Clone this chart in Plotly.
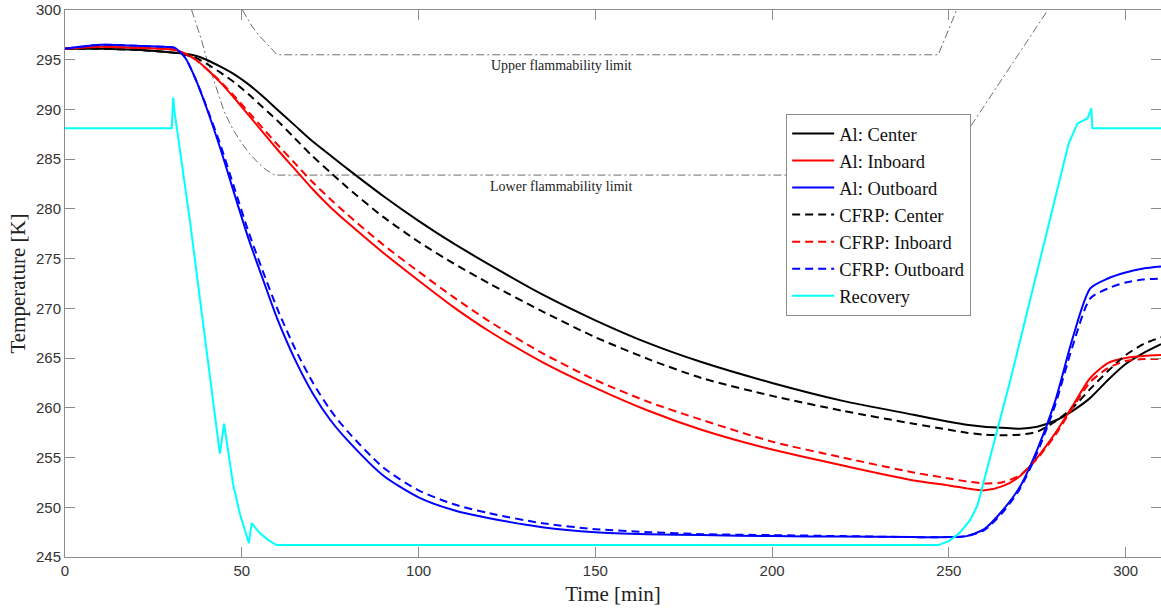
import plotly.graph_objects as go

# ---------------- data ----------------
time_min = [0, 10, 20, 28, 31, 34, 37, 40, 44, 48, 52, 56, 60, 65, 70, 75, 80, 90, 100,
            110, 120, 135, 150, 165, 180, 200, 220, 240, 250, 255, 260, 265, 270, 275,
            280, 285, 290, 295, 300, 305, 310]

al_center = [296.1, 296.1, 296.0, 295.8, 295.7, 295.6, 295.4, 295.0, 294.3, 293.5, 292.5,
             291.3, 290.0, 288.4, 286.8, 285.4, 284.0, 281.3, 278.8, 276.5, 274.4, 271.4,
             268.8, 266.5, 264.6, 262.5, 260.7, 259.3, 258.6, 258.3, 258.1, 258.0, 257.9,
             258.1, 258.7, 259.7, 261.0, 262.8, 264.4, 265.5, 266.4]
al_inboard = [296.1, 296.3, 296.2, 296.1, 296.0, 295.6, 295.0, 294.1, 292.7, 291.1, 289.4,
              287.7, 286.0, 284.0, 282.0, 280.2, 278.6, 275.6, 272.8, 270.1, 267.7, 264.6,
              262.0, 259.7, 257.8, 255.8, 254.2, 252.7, 252.2, 251.9, 251.7, 252.1, 253.1,
              255.0, 257.4, 260.2, 263.0, 264.5, 265.0, 265.2, 265.3]
al_outboard = [296.1, 296.5, 296.4, 296.3, 296.2, 295.2, 293.0, 290.2, 286.0, 281.4, 276.9,
               272.9, 269.0, 264.9, 261.5, 258.8, 256.7, 253.2, 251.0, 249.7, 248.9, 248.0,
               247.5, 247.3, 247.2, 247.1, 247.05, 247.0, 247.0, 247.1, 247.8, 249.6, 252.0,
               255.8, 260.6, 267.0, 272.0, 273.0, 273.6, 274.0, 274.2]
cfrp_center = [296.1, 296.1, 296.0, 295.8, 295.7, 295.5, 295.2, 294.6, 293.7, 292.7, 291.5,
               290.2, 288.9, 287.1, 285.3, 283.7, 282.1, 279.2, 276.7, 274.5, 272.5, 269.7,
               267.1, 264.9, 263.0, 261.2, 259.7, 258.4, 257.8, 257.5, 257.3, 257.25, 257.3,
               257.6, 258.6, 260.0, 261.9, 263.7, 265.3, 266.4, 267.1]
cfrp_inboard = [296.1, 296.3, 296.2, 296.1, 296.0, 295.6, 295.0, 294.1, 292.8, 291.3, 289.7,
                288.1, 286.5, 284.6, 282.7, 281.0, 279.4, 276.4, 273.7, 271.1, 268.7, 265.5,
                262.8, 260.6, 258.8, 256.6, 255.0, 253.5, 252.9, 252.6, 252.4, 252.5, 253.2,
                254.9, 257.2, 260.0, 262.6, 264.0, 264.7, 264.9, 264.9]
cfrp_outboard = [296.1, 296.5, 296.4, 296.3, 296.2, 295.2, 293.0, 290.3, 286.4, 282.0, 277.6,
                 273.7, 270.0, 266.0, 262.6, 259.8, 257.6, 254.0, 251.7, 250.3, 249.4, 248.4,
                 247.8, 247.5, 247.3, 247.2, 247.1, 247.0, 247.0, 247.1, 247.7, 249.4, 251.8,
                 255.5, 260.2, 266.2, 271.0, 272.0, 272.6, 272.9, 273.0]

recovery_t = [0, 30.2, 30.6, 31.0, 35.3, 41.8, 43.8, 45.0, 47.5, 49.5, 52.0, 52.8, 55.1,
              57.5, 59.8, 247, 250, 253, 256, 258.1, 267.4, 283.9, 286.4, 289.2, 290.3,
              290.6, 310]
recovery_k = [288.1, 288.1, 291.2, 289.7, 278.9, 260.8, 255.4, 258.4, 252.4, 249.3, 246.4,
              248.4, 247.4, 246.7, 246.2, 246.2, 246.6, 247.4, 248.7, 250.2, 262.8, 286.6,
              288.6, 289.1, 290.1, 288.1, 288.1]

ufl_t = [50.2, 51.5, 53, 55, 57, 59, 60, 247, 252.2]
ufl_k = [300, 299.2, 298.3, 297.4, 296.6, 295.8, 295.5, 295.5, 300]
lfl_t = [35.8, 38.6, 40, 42.8, 45, 47.5, 50, 52.3, 55, 57, 59.3, 247, 278]
lfl_k = [300, 297.0, 295.2, 292.1, 289.8, 288.0, 286.6, 285.5, 284.5, 283.9, 283.4, 283.4, 300]

x_ticks = [0, 50, 100, 150, 200, 250, 300]
y_ticks = [245, 250, 255, 260, 265, 270, 275, 280, 285, 290, 295, 300]

# ---------------- figure ----------------
fig = go.Figure()

flam_line = dict(color="#6e6e6e", width=1, dash="8px,3px,2px,3px")
fig.add_trace(go.Scatter(x=ufl_t, y=ufl_k, mode="lines", line=flam_line,
                         showlegend=False, hoverinfo="skip"))
fig.add_trace(go.Scatter(x=lfl_t, y=lfl_k, mode="lines", line=flam_line,
                         showlegend=False, hoverinfo="skip"))

series = [
    ("Al: Center", al_center, "#000000", "solid"),
    ("Al: Inboard", al_inboard, "#ff0000", "solid"),
    ("Al: Outboard", al_outboard, "#0000ff", "solid"),
    ("CFRP: Center", cfrp_center, "#000000", "8px,5px"),
    ("CFRP: Inboard", cfrp_inboard, "#ff0000", "8px,5px"),
    ("CFRP: Outboard", cfrp_outboard, "#0000ff", "8px,5px"),
]
for name, vals, col, dash in series:
    fig.add_trace(go.Scatter(x=time_min, y=vals, mode="lines", name=name,
                             line=dict(color=col, width=2, dash=dash,
                                       shape="spline", smoothing=0.7)))

fig.add_trace(go.Scatter(x=recovery_t, y=recovery_k, mode="lines", name="Recovery",
                         line=dict(color="#00ffff", width=2)))

fig.add_annotation(x=140.3, y=294.4, text="Upper flammability limit", showarrow=False,
                   font=dict(family="Liberation Serif", size=14, color="#222222"))
fig.add_annotation(x=140.3, y=282.3, text="Lower flammability limit", showarrow=False,
                   font=dict(family="Liberation Serif", size=14, color="#222222"))

axis_common = dict(showline=True, linecolor="#8c8c8c", linewidth=1, mirror="ticks",
                   ticks="inside", ticklen=10, tickcolor="#8c8c8c", tickwidth=1,
                   showgrid=False, zeroline=False, automargin=False,
                   tickfont=dict(family="Liberation Sans", size=15, color="#333333"))

fig.update_xaxes(range=[0, 310], tickvals=x_ticks,
                 title=dict(text="Time [min]", standoff=8,
                            font=dict(family="Liberation Serif", size=21, color="#222222")),
                 **axis_common)
fig.update_yaxes(range=[245, 300], tickvals=y_ticks,
                 title=dict(text="Temperature [K]", standoff=4,
                            font=dict(family="Liberation Serif", size=21, color="#222222")),
                 **axis_common)

fig.update_layout(
    width=1161, height=613,
    margin=dict(l=65, r=0, t=10, b=56),
    paper_bgcolor="white", plot_bgcolor="white",
    legend=dict(x=0.658, y=0.81, xanchor="left", yanchor="top",
                bgcolor="white", bordercolor="#8c8c8c", borderwidth=1,
                font=dict(family="Liberation Serif", size=18.5, color="#111111"),
                itemwidth=42, tracegroupgap=0),
    showlegend=True,
)

fig.write_html("out.html",
               config={"displayModeBar": False},
               post_script="document.body.style.margin='0';"
                           "document.body.style.overflow='hidden';")
